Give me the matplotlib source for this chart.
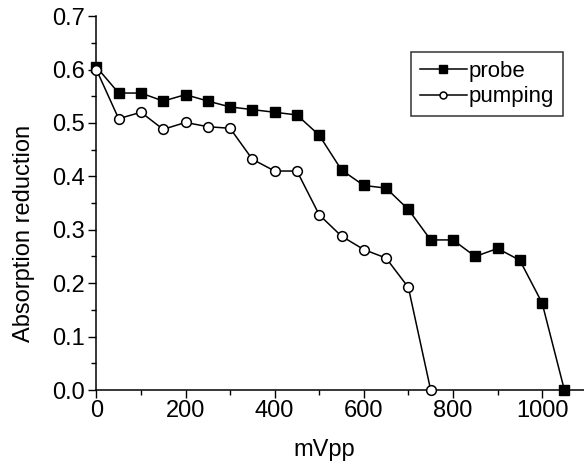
import matplotlib
matplotlib.use("Agg")
import matplotlib.pyplot as plt
from matplotlib.ticker import MultipleLocator

plt.rcParams['font.family'] = ['Liberation Sans', 'DejaVu Sans']

# data
probe_x = [0, 50, 100, 150, 200, 250, 300, 350, 400, 450, 500, 550, 600, 650,
           700, 750, 800, 850, 900, 950, 1000, 1050]
probe_y = [0.605, 0.556, 0.556, 0.541, 0.553, 0.541, 0.530, 0.525, 0.520, 0.515,
           0.477, 0.412, 0.383, 0.378, 0.338, 0.281, 0.281, 0.250, 0.265, 0.243,
           0.163, 0.0]
pump_x = [0, 50, 100, 150, 200, 250, 300, 350, 400, 450, 500, 550, 600, 650, 700, 750]
pump_y = [0.600, 0.508, 0.520, 0.488, 0.501, 0.493, 0.490, 0.432, 0.410, 0.410,
          0.328, 0.288, 0.263, 0.247, 0.192, 0.0]

fig = plt.figure(figsize=(5.84, 4.61), dpi=100)
ax = fig.add_axes([0.165, 0.154, 0.835, 0.811])

ax.plot(probe_x, probe_y, '-s', color='black', lw=1.1, ms=7, mfc='black',
        mec='black', label='probe', clip_on=False, zorder=3)
ax.plot(pump_x, pump_y, '-o', color='black', lw=1.1, ms=7, mfc='white',
        mec='black', mew=1.1, label='pumping', clip_on=False, zorder=4)

ax.set_xlim(0, 1094)
ax.set_ylim(0, 0.7)
ax.xaxis.set_major_locator(MultipleLocator(200))
ax.xaxis.set_minor_locator(MultipleLocator(100))
ax.yaxis.set_major_locator(MultipleLocator(0.1))
ax.yaxis.set_minor_locator(MultipleLocator(0.05))
ax.yaxis.set_major_formatter(plt.FormatStrFormatter('%.1f'))

for s in ['top', 'right']:
    ax.spines[s].set_visible(False)
for s in ['left', 'bottom']:
    ax.spines[s].set_linewidth(1.1)

ax.tick_params(which='major', direction='out', length=6, width=1, labelsize=17)
ax.tick_params(which='minor', direction='out', length=3.5, width=1)
ax.tick_params(axis='x', pad=1)
ax.tick_params(axis='y', pad=2)

ax.set_xlabel('mVpp', fontsize=17)
ax.set_ylabel('Absorption reduction', fontsize=17)
ax.xaxis.set_label_coords(0.467, -0.132)
ax.yaxis.set_label_coords(-0.125, 0.42)

leg = ax.legend(loc='upper right', bbox_to_anchor=(0.957, 0.905), fontsize=16,
                frameon=True, fancybox=False, edgecolor='black',
                handlelength=2.1, handletextpad=0.1, borderpad=0.4,
                labelspacing=0.22, borderaxespad=0)
leg.get_frame().set_linewidth(1.1)
leg.legend_handles[0].set_markersize(6)
leg.legend_handles[1].set_markersize(5)

fig.savefig('out.png', dpi=100)
